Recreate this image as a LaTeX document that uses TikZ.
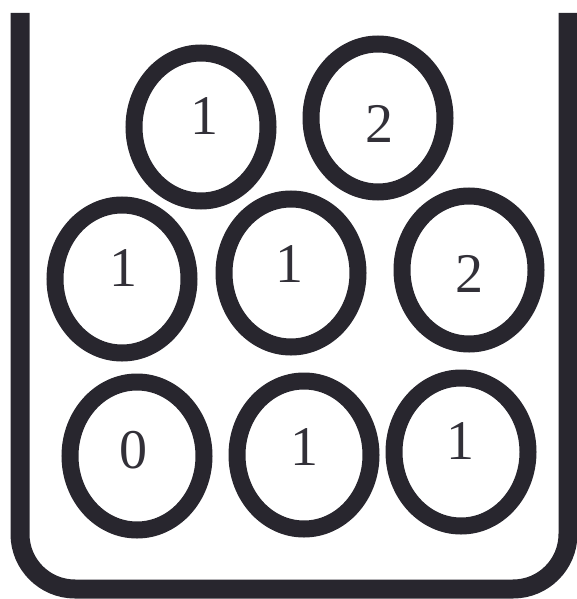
\documentclass[tikz,border=0pt]{standalone}
\usepackage{fontspec}
\setmainfont{Liberation Serif}
\usetikzlibrary{shapes.geometric}
\definecolor{ink}{RGB}{40,38,46}
\definecolor{digit}{RGB}{50,48,56}
\tikzset{
  ball/.style={ellipse, draw=ink, line width=17pt, minimum width=134pt, minimum height=148pt, inner sep=0pt},
  num/.style={text=digit, font=\fontsize{56}{56}\selectfont, inner sep=0pt},
  wall/.style={draw=ink, line width=19pt, rounded corners=55pt}
}
\begin{document}
\begin{tikzpicture}[x=1pt,y=-1pt]
\useasboundingbox (0,0) rectangle (576,599);
\coordinate (tl) at (20,13);
\coordinate (bl) at (20,589);
\coordinate (br) at (568,589);
\coordinate (tr) at (568,13);
\draw[wall] (tl) -- (bl) -- (br) -- (tr);
% top row
\node[ball] (a) at (201,127) {};
\node[ball] (b) at (378,118) {};
% middle row
\node[ball] (c) at (122,279) {};
\node[ball] (d) at (291,273) {};
\node[ball] (e) at (469,270) {};
% bottom row
\node[ball] (f) at (137,456) {};
\node[ball] (g) at (304,455) {};
\node[ball] (h) at (461,452) {};
% digits
\node[num] (ta) at (204,116) {1};
\node[num] (tb) at (379,124) {2};
\node[num] (tc) at (123,268) {1};
\node[num] (td) at (289,264) {1};
\node[num] (te) at (469,274) {2};
\node[num] (tf) at (133,450) {0};
\node[num] (tg) at (304,447) {1};
\node[num] (th) at (460,441) {1};
\end{tikzpicture}
\end{document}
